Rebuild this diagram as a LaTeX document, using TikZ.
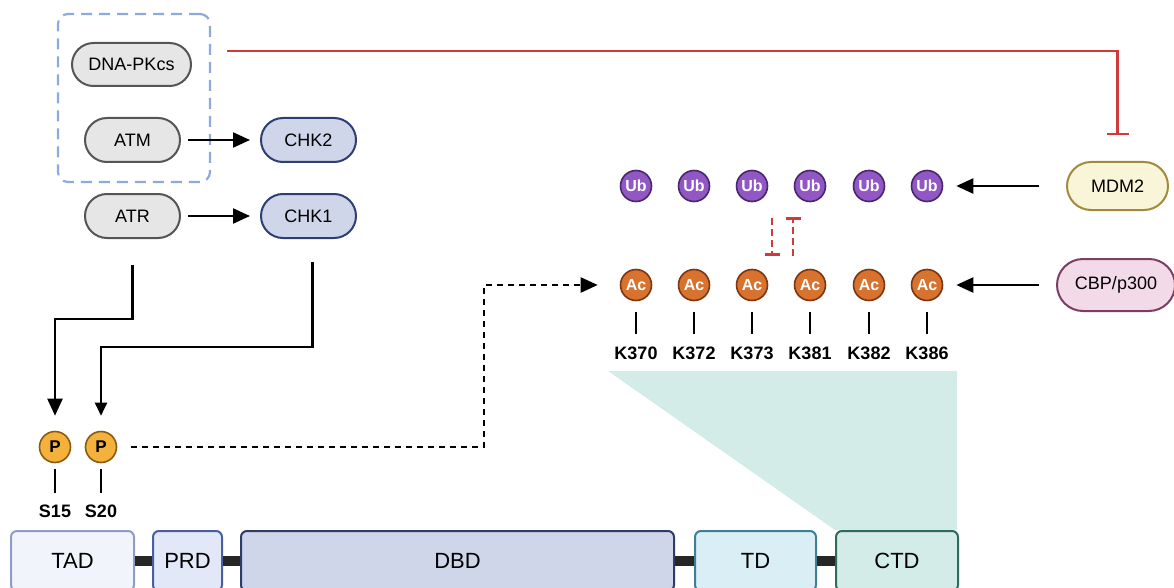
\documentclass[tikz,border=0pt]{standalone}
\usepackage{fontspec}
\setmainfont{Liberation Sans}
\usetikzlibrary{shapes.misc}
\usetikzlibrary{arrows.meta}
\newcommand{\pillheight}{44pt}
\newcommand{\sitesize}{31pt}
\definecolor{pillfill}{HTML}{E6E6E6}
\definecolor{pillline}{HTML}{555555}
\definecolor{chkfill}{HTML}{CFD6EA}
\definecolor{chkline}{HTML}{2D3E73}
\definecolor{ubfill}{HTML}{9157C2}
\definecolor{ubline}{HTML}{4A2670}
\definecolor{acfill}{HTML}{D8722F}
\definecolor{acline}{HTML}{7D3512}
\definecolor{pfill}{HTML}{F4B13C}
\definecolor{pline}{HTML}{8C5A12}
\definecolor{mdmfill}{HTML}{F8F5D8}
\definecolor{mdmline}{HTML}{A2893C}
\definecolor{cbpfill}{HTML}{F3DAE8}
\definecolor{cbpline}{HTML}{7D3E63}
\definecolor{inhred}{HTML}{D03A3A}
\definecolor{groupblue}{HTML}{8EAADB}
\definecolor{ctdshade}{HTML}{D3ECE8}
\definecolor{tadfill}{HTML}{F1F4FA}
\definecolor{tadline}{HTML}{8E9DC6}
\definecolor{prdfill}{HTML}{E3E8F8}
\definecolor{prdline}{HTML}{4A5EA2}
\definecolor{dbdline}{HTML}{2F3B68}
\definecolor{tdfill}{HTML}{D9EFF5}
\definecolor{tdline}{HTML}{3E7F95}
\definecolor{ctdline}{HTML}{2D6B5F}
\tikzstyle{pill}=[draw, rounded rectangle, line width=2pt, minimum height=\pillheight, minimum width=95pt, inner sep=0,
                  font=\fontsize{18}{20}\selectfont]
\tikzstyle{kinase}=[pill, fill=pillfill, draw=pillline]
\tikzstyle{checkpoint}=[pill, fill=chkfill, draw=chkline]
\tikzstyle{site}=[draw, circle, line width=1.6pt, minimum size=\sitesize, inner sep=0, text=white,
                  font=\bfseries\fontsize{16}{16}\selectfont]
\tikzstyle{ubsite}=[site, fill=ubfill, draw=ubline]
\tikzstyle{acsite}=[site, fill=acfill, draw=acline]
\tikzstyle{psite}=[site, fill=pfill, draw=pline, text=black, font=\bfseries\fontsize{17}{17}\selectfont]
\tikzstyle{residue}=[inner sep=0, font=\bfseries\fontsize{18}{18}\selectfont]
\tikzstyle{p53domain}=[draw, rectangle, rounded corners=6pt, line width=2pt, minimum height=60pt, inner sep=0,
                    anchor=north west, font=\fontsize{22}{22}\selectfont]
\tikzstyle{tick}=[line width=2.3pt]
\tikzstyle{linker}=[line width=10pt, draw=black!85]
\tikzstyle{act}=[line width=2.3pt, -{Triangle[length=17pt, width=15pt]}]
\tikzstyle{inhib}=[line width=2.3pt, draw=inhred, -{Bar[width=22pt, line width=2.3pt]}]
\tikzstyle{dinhib}=[line width=2.3pt, draw=inhred, dash pattern=on 7pt off 4pt, -{Bar[width=15pt, line width=2.3pt]}]

\begin{document}
\begin{tikzpicture}[x=1pt, y=-1pt]
    \clip (0,0) rectangle (1174,588);
    \fill[ctdshade] (608,371) -- (957,371) -- (957,530) -- (835,530) -- cycle;

    \node[draw=groupblue, line width=2.2pt, dash pattern=on 11pt off 7pt, rounded corners=10pt,
          minimum width=152pt, minimum height=168pt] (sensors) at (134,98) {};
    \node[kinase, minimum width=119pt, minimum height=43pt] (DNAPK) at (131.5,64.5) {DNA-PKcs};
    \node[kinase] (ATM) at (132.5,140) {ATM};
    \node[kinase] (ATR) at (132.5,216) {ATR};
    \node[checkpoint] (CHK2) at (308.5,140) {CHK2};
    \node[checkpoint] (CHK1) at (308.5,216) {CHK1};
    \node[pill, fill=mdmfill, draw=mdmline, minimum width=101pt, minimum height=48pt] (MDM2) at (1117.5,186) {MDM2};
    \node[pill, fill=cbpfill, draw=cbpline, minimum width=118pt, minimum height=52pt] (CBP) at (1116,285) {CBP/p300};

    \foreach \x/\k [count=\i] in {636/K370, 694/K372, 752/K373, 810/K381, 869/K382, 927/K386} {
        \node[ubsite] (Ub\i) at (\x,186) {Ub};
        \node[acsite] (Ac\i) at (\x,285) {Ac};
        \node[residue] (K\i) at (\x,353) {\k};
        \draw[tick, shorten <=11pt, shorten >=12pt] (Ac\i.south) -- (K\i.north);
    }

    \node[psite] (P1) at (55,447) {P};
    \node[psite] (P2) at (101,447) {P};
    \node[residue] (S1) at (55,511) {S15};
    \node[residue] (S2) at (101,511) {S20};
    \draw[tick, shorten <=6pt, shorten >=11pt] (P1.south) -- (S1.north);
    \draw[tick, shorten <=6pt, shorten >=11pt] (P2.south) -- (S2.north);

    \node[p53domain, fill=tadfill, draw=tadline, minimum width=123pt] (TAD) at (10,530) {TAD};
    \node[p53domain, fill=prdfill, draw=prdline, minimum width=69pt] (PRD) at (152,530) {PRD};
    \node[p53domain, fill=chkfill, draw=dbdline, minimum width=433pt] (DBD) at (240,530) {DBD};
    \node[p53domain, fill=tdfill, draw=tdline, minimum width=121pt] (TD) at (694,530) {TD};
    \node[p53domain, fill=ctdshade, draw=ctdline, minimum width=122pt] (CTD) at (835,530) {CTD};
    \draw[linker] (TAD.east) -- (PRD.west);
    \draw[linker] (PRD.east) -- (DBD.west);
    \draw[linker] (DBD.east) -- (TD.west);
    \draw[linker] (TD.east) -- (CTD.west);

    \draw[act, shorten <=7pt, shorten >=10pt] (ATM.east) -- (CHK2.west);
    \draw[act, shorten <=7pt, shorten >=10pt] (ATR.east) -- (CHK1.west);
    \draw[act, shorten <=26pt, shorten >=15pt] (ATR.south) -- ++(0,80) -| (P1.north);
    \draw[act, -{Triangle[length=13pt, width=12pt]}, shorten <=23pt, shorten >=15pt]
        ([xshift=4pt]CHK1.south) -- ++(0,108) -| (P2.north);
    \draw[act, dash pattern=on 6pt off 5pt, shorten <=14pt, shorten >=22pt] (P2.east) -- ++(367,0) |- (Ac1.west);
    \draw[act, shorten <=27pt, shorten >=13pt] (MDM2.west) -- (Ub6.east);
    \draw[act, shorten <=17pt, shorten >=13pt] (CBP.west) -- (Ac6.east);

    \coordinate (pkout) at (227,51);
    \draw[inhib, shorten >=26pt] (pkout) -| (MDM2.north);
    \draw[dinhib, shorten <=16pt, shorten >=13pt] ([xshift=20pt]Ub3.south) -- ([xshift=20pt]Ac3.north);
    \draw[dinhib, shorten <=13pt, shorten >=15pt] ([xshift=-17pt]Ac4.north) -- ([xshift=-17pt]Ub4.south);
\end{tikzpicture}
\end{document}
